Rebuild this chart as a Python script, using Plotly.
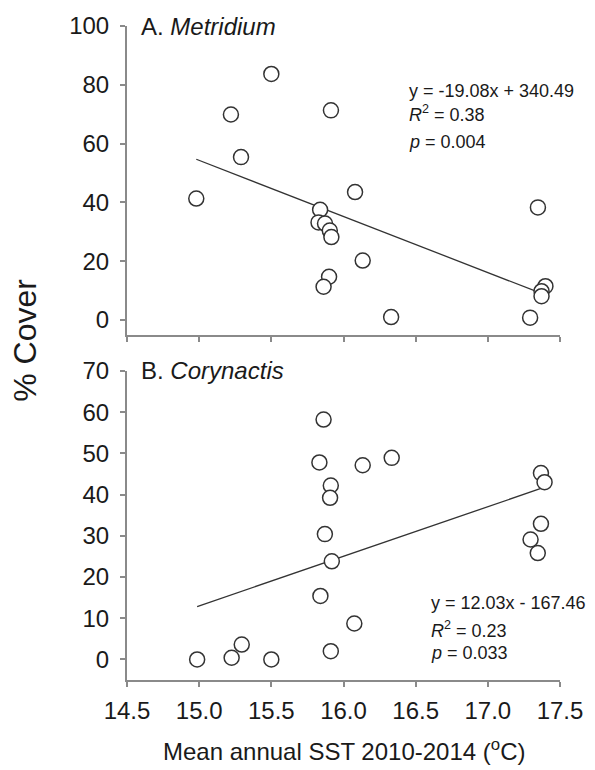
import plotly.graph_objects as go

# Metridium: mean annual SST (°C) and % cover per site
met_sst = [14.98, 15.22, 15.29, 15.50, 15.913, 16.08, 15.838, 15.827, 15.872, 15.905,
           15.916, 16.133, 15.90, 15.862, 16.33, 17.347, 17.399, 17.372, 17.372, 17.293]
met_cover = [41.3, 69.9, 55.4, 83.7, 71.3, 43.5, 37.5, 33.2, 32.8, 30.4,
             28.2, 20.2, 14.7, 11.3, 1.0, 38.3, 11.5, 9.8, 8.1, 0.8]
met_fit = (-19.08, 340.49)
met_r2, met_p = "0.38", "0.004"

# Corynactis: mean annual SST (°C) and % cover per site
cor_sst = [14.986, 15.225, 15.295, 15.50, 15.862, 15.833, 16.133, 16.334, 15.912, 15.907,
           15.871, 15.919, 15.84, 16.075, 15.912, 17.368, 17.393, 17.368, 17.296, 17.346]
cor_cover = [0.0, 0.4, 3.6, 0.0, 58.2, 47.8, 47.1, 48.9, 42.2, 39.2,
             30.4, 23.8, 15.4, 8.7, 2.0, 45.2, 43.0, 32.9, 29.1, 25.8]
cor_fit = (12.03, -167.46)
cor_r2, cor_p = "0.23", "0.033"

x_ticks = [14.5, 15.0, 15.5, 16.0, 16.5, 17.0, 17.5]
x_ticktext = ["14.5", "15.0", "15.5", "16.0", "16.5", "17.0", "17.5"]
met_yticks = [0, 20, 40, 60, 80, 100]
cor_yticks = [0, 10, 20, 30, 40, 50, 60, 70]

FONT = "Liberation Sans, Arial, sans-serif"
AXIS_COL = "#8a8a8a"
INK = "#1a1a1a"

fig = go.Figure()


def fit_line(xs, slope, intercept):
    x0, x1 = min(xs), max(xs)
    return [x0, x1], [slope * x0 + intercept, slope * x1 + intercept]


for xs, ys, fit, xa, ya in [(met_sst, met_cover, met_fit, "x", "y"),
                            (cor_sst, cor_cover, cor_fit, "x2", "y2")]:
    lx, ly = fit_line(xs, *fit)
    fig.add_trace(go.Scatter(x=lx, y=ly, mode="lines", xaxis=xa, yaxis=ya,
                             line=dict(color="#333333", width=1.3),
                             showlegend=False, hoverinfo="skip"))
    fig.add_trace(go.Scatter(x=xs, y=ys, mode="markers", xaxis=xa, yaxis=ya,
                             marker=dict(symbol="circle", size=15, color="white",
                                         line=dict(color="#333333", width=1.5)),
                             showlegend=False))

common_x = dict(range=[14.5, 17.5], tickvals=x_ticks, showgrid=False, zeroline=False,
                showline=True, linecolor=AXIS_COL, linewidth=2, ticks="outside",
                ticklen=5, tickwidth=1.5, tickcolor=AXIS_COL, domain=[0, 1],
                tickfont=dict(family=FONT, size=24, color=INK))
common_y = dict(showgrid=False, zeroline=False, showline=True, linecolor=AXIS_COL,
                linewidth=2, ticks="outside", ticklen=5, tickwidth=1.5,
                tickcolor=AXIS_COL, ticklabelstandoff=6,
                tickfont=dict(family=FONT, size=24, color=INK))

fig.update_layout(
    width=595, height=770,
    margin=dict(l=127, r=25, t=24, b=90),
    paper_bgcolor="white", plot_bgcolor="white",
    xaxis=dict(common_x, anchor="y", showticklabels=False),
    yaxis=dict(common_y, range=[-5, 100], tickvals=met_yticks, anchor="x",
               domain=[0.528, 1.0]),
    xaxis2=dict(common_x, anchor="y2", ticktext=x_ticktext, ticklabelstandoff=3),
    yaxis2=dict(common_y, range=[-5, 70], tickvals=cor_yticks, anchor="x2",
                domain=[0.0, 0.4726]),
)

ann_font = dict(family=FONT, size=18, color=INK)
annotations = []
# panel titles
annotations.append(dict(xref="paper", yref="paper", x=0.027, y=1.0, xanchor="left",
                        yanchor="middle", text="A. <i>Metridium</i>", showarrow=False,
                        font=dict(family=FONT, size=24, color=INK)))
annotations.append(dict(xref="paper", yref="paper", x=0.027, y=0.4726, xanchor="left",
                        yanchor="middle", text="B. <i>Corynactis</i>", showarrow=False,
                        font=dict(family=FONT, size=24, color=INK)))

# regression statistics
met_lines = [f"y = {met_fit[0]:.2f}x + {met_fit[1]:.2f}",
             f"<i>R</i><sup>2</sup> = {met_r2}", f"<i>p</i> = {met_p}"]
for text, yv in zip(met_lines, [78, 70.2, 60.7]):
    annotations.append(dict(xref="x", yref="y", x=16.44, y=yv, xanchor="left",
                            yanchor="middle", text=text, showarrow=False, font=ann_font))
cor_lines = [f"y = {cor_fit[0]:.2f}x - {abs(cor_fit[1]):.2f}",
             f"<i>R</i><sup>2</sup> = {cor_r2}", f"<i>p</i> = {cor_p}"]
for text, yv in zip(cor_lines, [13.7, 7.3, 1.45]):
    annotations.append(dict(xref="x2", yref="y2", x=16.59, y=yv, xanchor="left",
                            yanchor="middle", text=text, showarrow=False, font=ann_font))

# shared axis titles
annotations.append(dict(xref="paper", yref="paper", x=0.5, y=-0.107, xanchor="center",
                        yanchor="middle", text="Mean annual SST 2010-2014 (<sup>o</sup>C)",
                        showarrow=False, font=dict(family=FONT, size=24, color=INK)))
annotations.append(dict(xref="paper", yref="paper", x=-0.236, y=0.52, xanchor="center",
                        yanchor="middle", text="% Cover", textangle=-90, showarrow=False,
                        font=dict(family=FONT, size=32, color=INK)))

fig.update_layout(annotations=annotations)

fig.write_html("out.html")
